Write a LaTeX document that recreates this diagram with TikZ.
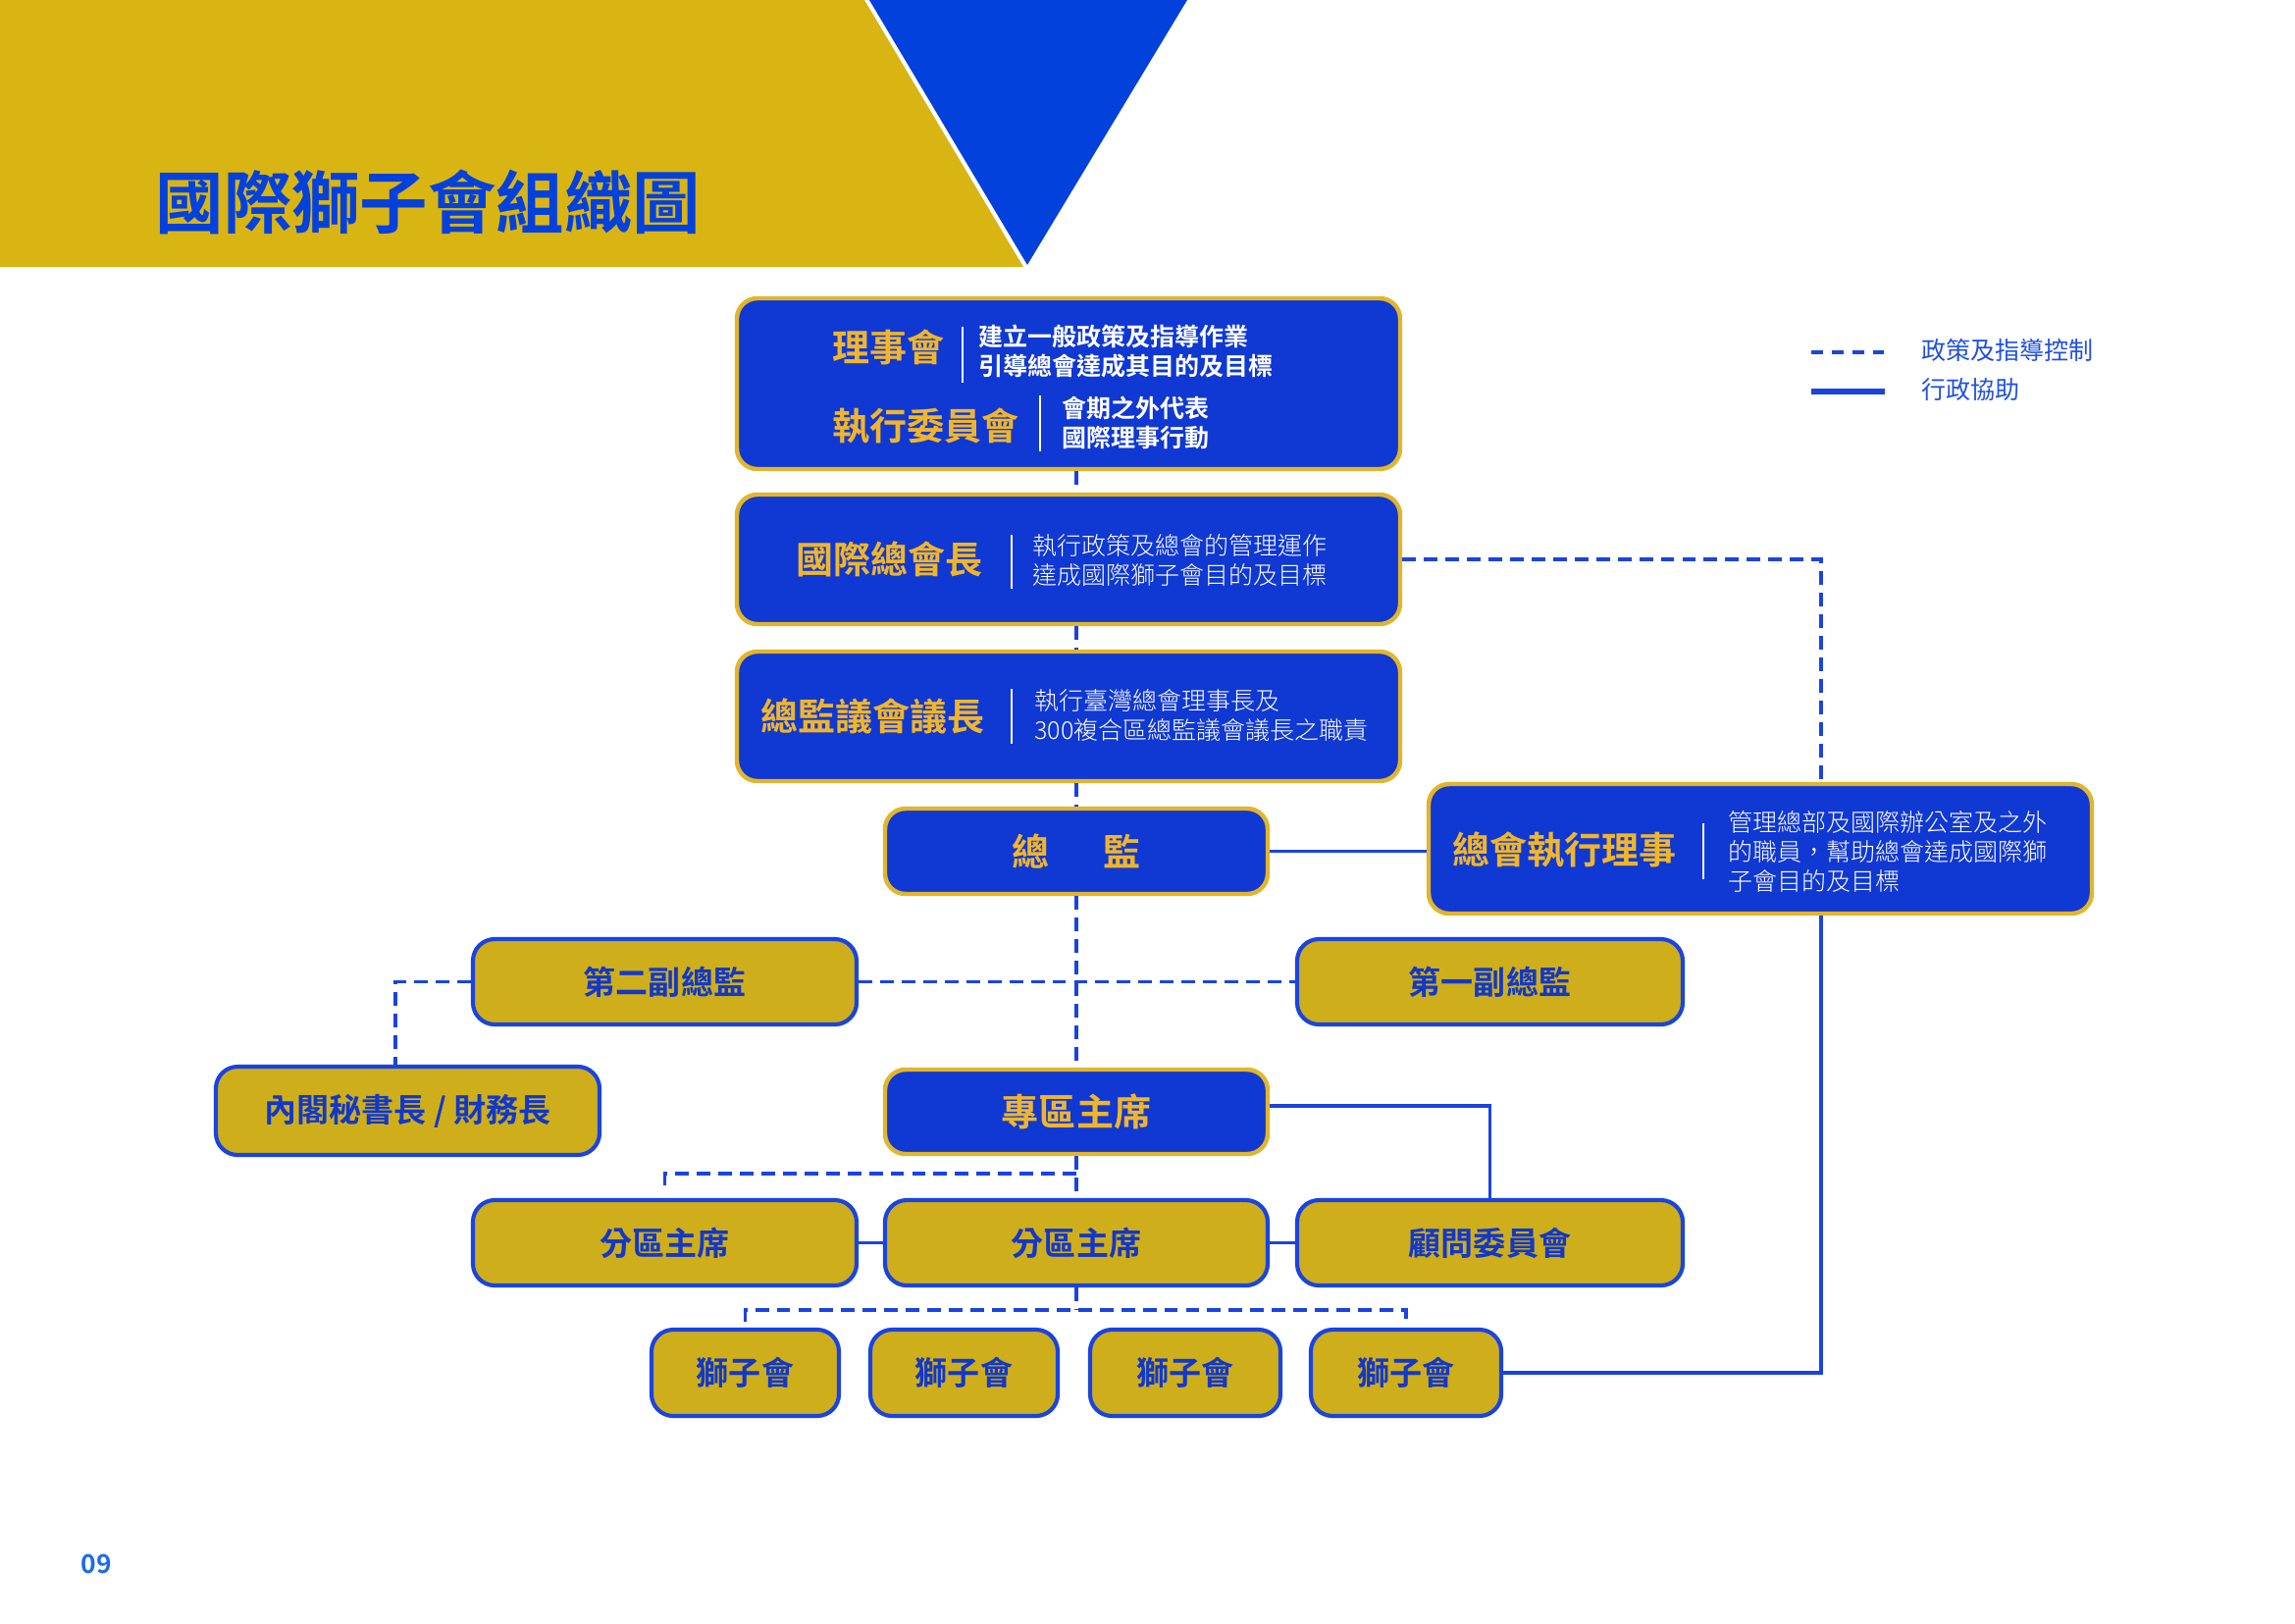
\documentclass[tikz,border=0pt]{standalone}
\usepackage{fontspec}
\newfontfamily\cjk{Noto Sans CJK TC}[BoldFont={Noto Sans CJK TC Bold}]
\newfontfamily\cjklight{Noto Sans CJK TC Light}
\usetikzlibrary{calc}
\definecolor{hdrgold}{HTML}{D9B514}
\definecolor{triblue}{HTML}{0341DC}
\definecolor{boxblue}{HTML}{1038D2}
\definecolor{boxgold}{HTML}{E2B52A}
\definecolor{goldfill}{HTML}{CFAE1C}
\definecolor{goldtext}{HTML}{EFB52C}
\definecolor{bluetext}{HTML}{1238C8}
\definecolor{linecol}{HTML}{1A44E0}
\definecolor{legtext}{HTML}{2050E0}
\definecolor{pagecol}{HTML}{1E6BE8}
\newcommand\pxu[1]{#1*0.36pt}
\begin{document}
\begin{tikzpicture}[x=0.36pt,y=-0.36pt,
  bbox/.style={draw=boxgold, fill=boxblue, line width=1.6pt, rounded corners=7.5pt, inner sep=0pt},
  gbox/.style={draw=linecol, fill=goldfill, line width=1.5pt, rounded corners=8pt, inner sep=0pt,
    text=bluetext, font=\cjk\bfseries\fontsize{11.9}{13}\selectfont},
  sbox/.style={bbox, text=goldtext, font=\cjk\bfseries\fontsize{13.7}{15}\selectfont},
  ttl/.style={inner sep=0pt, anchor=west, text=goldtext, font=\cjk\bfseries\fontsize{13.7}{15}\selectfont},
  descb/.style={inner sep=0pt, anchor=west, align=left, text=white, font=\cjk\bfseries\fontsize{9}{10.6}\selectfont},
  descl/.style={inner sep=0pt, anchor=west, align=left, text=white, font=\cjklight\fontsize{9}{10.8}\selectfont},
  sepline/.style={draw=white, line width=0.8pt},
  dashline/.style={draw=linecol, line width=1.4pt, dash pattern=on 5pt off 2.9pt},
  solidline/.style={draw=linecol, line width=1.3pt},
  legtxt/.style={inner sep=0pt, anchor=west, text=legtext, font=\cjk\fontsize{9}{10}\selectfont}
]
\useasboundingbox (0,0) rectangle (2339,1654);
\fill[white] (0,0) rectangle (2339,1654);

% header
\fill[hdrgold] (0,0) -- (881,0) -- (1043,272) -- (0,272) -- cycle;
\fill[triblue] (886,0) -- (1210,0) -- (1047,270) -- cycle;
\node[inner sep=0pt, anchor=west, text=triblue, font=\cjk\bfseries\fontsize{25}{27}\selectfont] (title) at (158,206) {國際獅子會組織圖};

% big blue boxes
\node[bbox, minimum width=\pxu{676}, minimum height=\pxu{174}] (board) at (1089,391) {};
\node[bbox, minimum width=\pxu{676}, minimum height=\pxu{132}] (pres) at (1089,570) {};
\node[bbox, minimum width=\pxu{676}, minimum height=\pxu{132}] (council) at (1089,730) {};
\node[bbox, minimum width=\pxu{676}, minimum height=\pxu{132}] (ed) at (1794,865) {};

% small boxes
\node[sbox, minimum width=\pxu{390}, minimum height=\pxu{87}] (gov) at (1097,867.5) {總\hspace{20pt}監};
\node[sbox, minimum width=\pxu{390}, minimum height=\pxu{86}] (reg) at (1097,1133) {專區主席};
\node[gbox, minimum width=\pxu{391}, minimum height=\pxu{87}] (vp2) at (677.5,1000.5) {第二副總監};
\node[gbox, minimum width=\pxu{393}, minimum height=\pxu{87}] (vp1) at (1518.5,1000.5) {第一副總監};
\node[gbox, minimum width=\pxu{391}, minimum height=\pxu{90}] (cab) at (415.5,1132) {內閣秘書長 / 財務長};
\node[gbox, minimum width=\pxu{391}, minimum height=\pxu{87}] (zL) at (677.5,1266.5) {分區主席};
\node[gbox, minimum width=\pxu{390}, minimum height=\pxu{87}] (zM) at (1097,1266.5) {分區主席};
\node[gbox, minimum width=\pxu{393}, minimum height=\pxu{87}] (adv) at (1518.5,1266.5) {顧問委員會};
\node[gbox, minimum width=\pxu{191}, minimum height=\pxu{88}] (lion1) at (759.5,1399) {獅子會};
\node[gbox, minimum width=\pxu{191}, minimum height=\pxu{88}] (lion2) at (982.5,1399) {獅子會};
\node[gbox, minimum width=\pxu{194}, minimum height=\pxu{88}] (lion3) at (1208,1399) {獅子會};
\node[gbox, minimum width=\pxu{194}, minimum height=\pxu{88}] (lion4) at (1433,1399) {獅子會};

% texts in big boxes
\node[ttl] (t1) at (848,354) {理事會};
\draw[sepline] (981,333) -- (981,390);
\node[descb] (d1) at (997,358) {建立一般政策及指導作業\\引導總會達成其目的及目標};
\node[ttl] (t2) at (848,434) {執行委員會};
\draw[sepline] (1060,403) -- (1060,460);
\node[descb] (d2) at (1082,431) {會期之外代表\\國際理事行動};

\node[ttl] (t3) at (811,570) {國際總會長};
\draw[sepline] (1031,545) -- (1031,600);
\node[descl] (d3) at (1052,571) {執行政策及總會的管理運作\\達成國際獅子會目的及目標};

\node[ttl] (t4) at (775,730) {總監議會議長};
\draw[sepline] (1031,702) -- (1031,758);
\node[descl] (d4) at (1054,729) {執行臺灣總會理事長及\\300複合區總監議會議長之職責};

\node[ttl] (t5) at (1480,866) {總會執行理事};
\draw[sepline] (1736,839) -- (1736,896);
\node[descl] (d5) at (1761,868) {管理總部及國際辦公室及之外\\的職員，幫助總會達成國際獅\\子會目的及目標};

% coordinates
\coordinate (edx) at (1856,0);
\coordinate (cabx) at (403,0);

% connectors
\draw[dashline] (board.south -| gov.north) -- (pres.north -| gov.north);
\draw[dashline] (pres.south -| gov.north) -- (council.north -| gov.north);
\draw[dashline] (council.south -| gov.north) -- (gov.north);
\draw[dashline] (gov.south) -- (reg.north);
\draw[dashline] (pres.east) -- (pres.east -| edx) -- (edx |- ed.north);
\draw[solidline] (gov.east) -- (gov.east -| ed.west);
\draw[dashline] (vp2.east) -- (vp1.west);
\draw[dashline] (vp2.west) -- (vp2.west -| cabx) -- (cabx |- cab.north);
\draw[solidline] ($(reg.east)+(0,-6)$) -- ($(reg.east -| adv.north)+(0,-6)$) -- (adv.north);
\path (reg.south) ++(0,18) coordinate (zb);
\draw[dashline] (reg.south) -- (zM.north);
\draw[dashline] (zb) -- (zb -| zL.north) -- ++(0,12);
\draw[solidline] (zL.east) -- (zM.west);
\draw[solidline] (zM.east) -- (adv.west);
\path (zM.south) ++(0,23) coordinate (lb);
\draw[dashline] (zM.south) -- (lb);
\draw[dashline] ($(lion1.north)+(0,-6)$) -- (lion1.north |- lb) -- (lion4.north |- lb) -- ($(lion4.north)+(0,-6)$);
\draw[solidline] (lion4.east) -- (lion4.east -| edx) -- (edx |- ed.south);

% legend
\coordinate (lga) at (1846,359);
\coordinate (lgb) at (1921,359);
\coordinate (lgc) at (1846,399);
\coordinate (lgd) at (1921,399);
\draw[draw=linecol, line width=1.5pt, dash pattern=on 4.3pt off 3.2pt] (lga) -- (lgb);
\draw[draw=linecol, line width=2pt] (lgc) -- (lgd);
\node[legtxt] (l1) at (1958,357) {政策及指導控制};
\node[legtxt] (l2) at (1958,397) {行政協助};

% page number
\node[inner sep=0pt, text=pagecol, font=\cjk\bfseries\fontsize{9.5}{10}\selectfont] (pg) at (98,1594) {09};
\end{tikzpicture}
\end{document}
